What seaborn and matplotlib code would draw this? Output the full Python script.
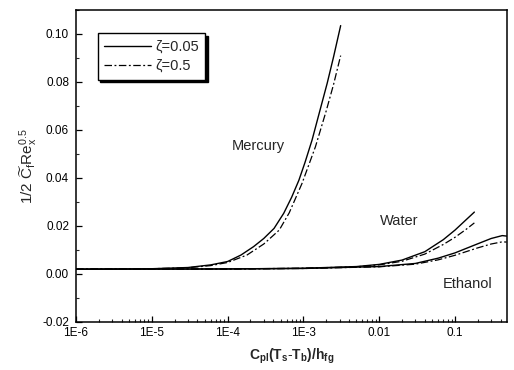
import matplotlib
matplotlib.use("Agg")
import matplotlib.pyplot as plt
import matplotlib.ticker as mticker
from matplotlib.lines import Line2D
import seaborn as sns

# ---- data ----
merc_xa = [1e-6, 1e-5, 3e-5, 6e-5, 1e-4, 1.5e-4, 2.2e-4, 3e-4, 4.1e-4, 5.5e-4, 7e-4, 8.7e-4,
           1.05e-3, 1.3e-3, 1.6e-3, 2.06e-3, 2.5e-3, 3.1e-3]
merc_a = [0.0020, 0.0022, 0.0027, 0.0038, 0.0052, 0.0079, 0.0114, 0.0148, 0.0190, 0.0253, 0.0320, 0.0390,
          0.0465, 0.0558, 0.0665, 0.0795, 0.0905, 0.1035]
merc_xb = [1e-6, 1e-5, 3e-5, 6e-5, 1e-4, 1.8e-4, 3e-4, 4.8e-4, 6.5e-4, 9.6e-4, 1.44e-3, 2.0e-3, 2.5e-3, 3.1e-3]
merc_b = [0.0020, 0.0022, 0.0026, 0.0035, 0.0048, 0.0079, 0.0125, 0.0183, 0.0255, 0.0378, 0.0530, 0.0680, 0.0790, 0.0910]

water_x = [1e-6, 1e-4, 1e-3, 5e-3, 0.01, 0.02, 0.04, 0.07, 0.1, 0.14, 0.18]
water_a = [0.0020, 0.0021, 0.0024, 0.0031, 0.0040, 0.0058, 0.0093, 0.0143, 0.0183, 0.0226, 0.0258]
water_b = [0.0020, 0.0021, 0.0024, 0.0030, 0.0038, 0.0053, 0.0083, 0.0123, 0.0153, 0.0186, 0.0213]

eth_x = [1e-6, 1e-4, 1e-3, 0.01, 0.03, 0.06, 0.1, 0.2, 0.3, 0.42, 0.48]
eth_a = [0.0020, 0.0021, 0.0023, 0.0031, 0.0044, 0.0066, 0.0088, 0.0126, 0.0148, 0.0160, 0.0158]
eth_b = [0.0020, 0.0021, 0.0023, 0.0030, 0.0041, 0.0059, 0.0078, 0.0109, 0.0125, 0.0134, 0.0133]

x_ticks = [1e-6, 1e-5, 1e-4, 1e-3, 1e-2, 1e-1]
x_labels = ["1E-6", "1E-5", "1E-4", "1E-3", "0.01", "0.1"]
y_ticks = [-0.02, 0.00, 0.02, 0.04, 0.06, 0.08, 0.10]
y_labels = ["-0.02", "0.00", "0.02", "0.04", "0.06", "0.08", "0.10"]
fluids = [("Mercury", 258, 146), ("Water", 399, 221), ("Ethanol", 468, 284)]
legend_labels = ["ζ=0.05", "ζ=0.5"]

sns.set_style("white")
plt.rcParams["font.family"] = ["Liberation Sans", "DejaVu Sans"]
plt.rcParams["mathtext.fontset"] = "custom"
plt.rcParams["mathtext.rm"] = "Liberation Sans"
plt.rcParams["mathtext.it"] = "Liberation Sans"
plt.rcParams["mathtext.bf"] = "Liberation Sans:bold"

fig = plt.figure(figsize=(5.14, 3.70), dpi=100)
ax = fig.add_axes([76 / 514, 48 / 370, 431 / 514, 312 / 370])

solid_kw = dict(color="black", linewidth=1.0, linestyle="-")
dash_kw = dict(color="black", linewidth=0.9, linestyle=(0, (6, 2, 1.5, 2)))

series = [(merc_xa, merc_a, merc_xb, merc_b),
          (water_x, water_a, water_x, water_b),
          (eth_x, eth_a, eth_x, eth_b)]
for xa, ya, xb, yb in series:
    sns.lineplot(x=xa, y=ya, ax=ax, sort=False, estimator=None, **solid_kw)
    sns.lineplot(x=xb, y=yb, ax=ax, sort=False, estimator=None, **dash_kw)

ax.set_xscale("log")
ax.set_xlim(1e-6, 0.485)
ax.set_ylim(-0.02, 0.11)
ax.set_xticks(x_ticks)
ax.set_xticklabels(x_labels)
ax.xaxis.set_minor_locator(mticker.LogLocator(base=10, subs=range(2, 10), numticks=20))
ax.xaxis.set_minor_formatter(mticker.NullFormatter())
ax.set_yticks(y_ticks)
ax.set_yticklabels(y_labels)
ax.yaxis.set_minor_locator(mticker.MultipleLocator(0.01))

ax.tick_params(axis="both", which="major", direction="in", length=4, width=0.9,
               labelsize=8.5, colors="black", bottom=True, left=True)
ax.tick_params(axis="y", which="major", pad=5)
ax.tick_params(axis="both", which="minor", direction="in", length=2.2, width=0.8,
               bottom=True, left=True)
for s in ax.spines.values():
    s.set_linewidth(1.1)
    s.set_color("black")

ax.set_xlabel(r"$\mathbf{C_{pl}(T_s\text{-}T_b)/h_{fg}}$", fontsize=10, labelpad=6)
ax.set_ylabel(r"$\mathrm{1/2\ \widetilde{C}_f Re_x^{0.5}}$", fontsize=11, labelpad=2)

for name, px, py in fluids:
    fx, fy = ax.transAxes.inverted().transform(fig.transFigure.transform((px / 514, 1 - py / 370)))
    ax.text(fx, fy, name, transform=ax.transAxes, ha="center", va="center", fontsize=10.5)

handles = [Line2D([], [], **solid_kw), Line2D([], [], **dash_kw)]
leg = ax.legend(handles, legend_labels, loc="upper left", bbox_to_anchor=(0.05, 0.925),
                fontsize=10.5, frameon=True, fancybox=False, shadow={"color": "black", "alpha": 1},
                edgecolor="black", framealpha=1, handlelength=3.2, handletextpad=0.3,
                borderpad=0.45, labelspacing=0.35, borderaxespad=0)
leg.get_frame().set_linewidth(1.0)

fig.savefig("out.png", dpi=100)
